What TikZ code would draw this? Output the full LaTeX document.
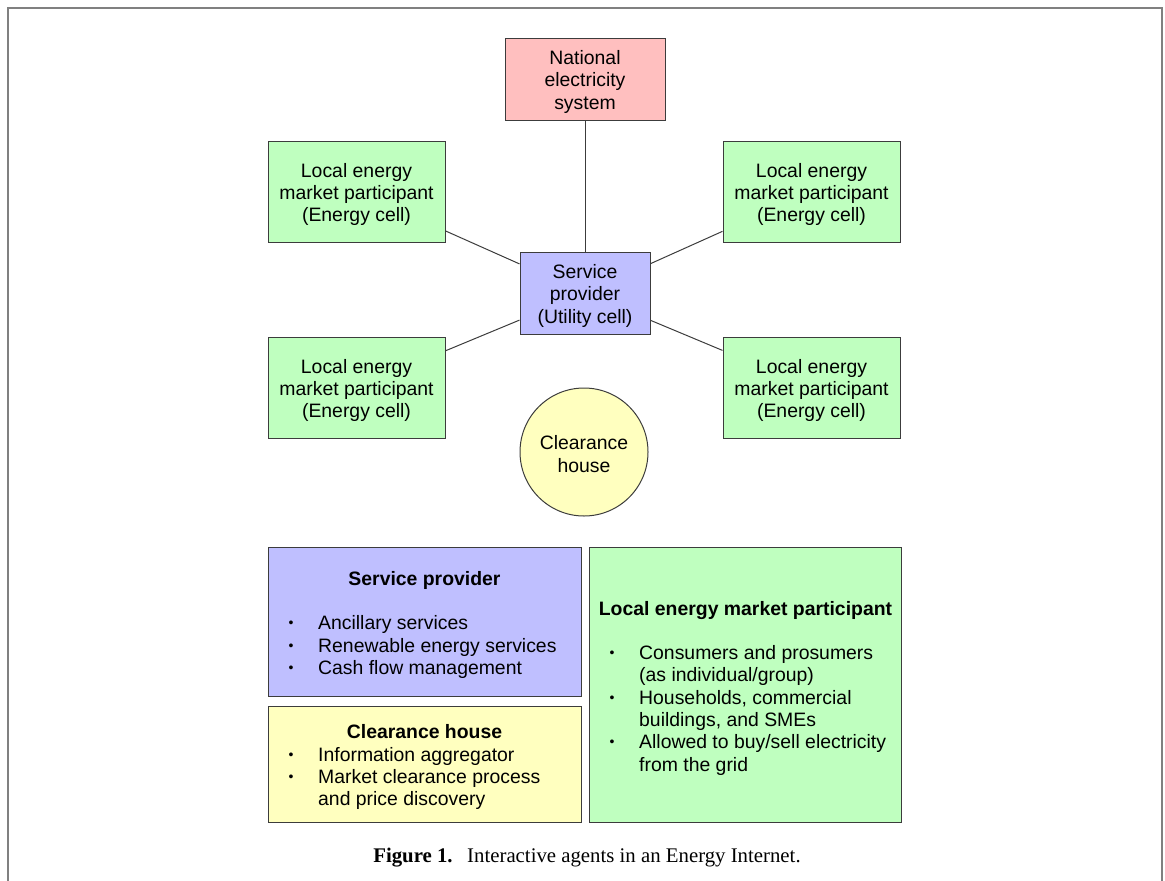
\documentclass[tikz,border=0pt]{standalone}
\usepackage{fontspec}
\setmainfont{Liberation Serif}
\newfontfamily\hv{Liberation Sans}
\definecolor{pinkc}{RGB}{255,191,191}
\definecolor{greenc}{RGB}{191,255,191}
\definecolor{bluec}{RGB}{191,191,255}
\definecolor{yelc}{RGB}{255,255,191}
\definecolor{framec}{RGB}{128,128,128}
\definecolor{edgec}{RGB}{60,60,60}
\newcommand\smallbul{{\fontsize{14}{14}\selectfont\raisebox{1.6pt}{\textbullet}}}
\newcommand\upstrut{\rule{0pt}{20pt}}
\tikzset{
  sans/.style={font=\hv\fontsize{19.4}{22.3}\selectfont},
  sansb/.style={font=\hv\bfseries\fontsize{19.4}{22.3}\selectfont},
  box/.style={draw=edgec, line width=1pt, rectangle, inner sep=0pt, align=center, sans},
  cell/.style={box, fill=greenc, minimum width=177, minimum height=101},
  conn/.style={draw=edgec, line width=1pt},
  bul/.style={sans, anchor=base, inner sep=0pt},
  item/.style={sans, anchor=base west, inner sep=0pt},
  ttl/.style={sansb, anchor=base, inner sep=0pt}
}
\begin{document}
\begin{tikzpicture}[x=1pt,y=-1pt]
\useasboundingbox (0,0) rectangle (1165,881);
\draw[framec, line width=2pt] (8,890) -- (8,8) -- (1162,8) -- (1162,890);

% upper diagram
\node[box, fill=pinkc, minimum width=160, minimum height=82] (nat) at (585,79) {\upstrut National\\electricity\\system};
\node[cell] (g1) at (356.5,191.5) {\upstrut Local energy\\market participant\\(Energy cell)};
\node[cell] (g2) at (811.5,191.5) {\upstrut Local energy\\market participant\\(Energy cell)};
\node[cell] (g3) at (356.5,387.5) {\upstrut Local energy\\market participant\\(Energy cell)};
\node[cell] (g4) at (811.5,387.5) {\upstrut Local energy\\market participant\\(Energy cell)};
\node[box, fill=bluec, minimum width=130, minimum height=82] (sp) at (585,293) {\upstrut Service\\provider\\(Utility cell)};
\node[box, circle, fill=yelc, minimum size=128] (ch) at (584,452) {\rule{0pt}{18pt}Clearance\\house};

\draw[conn] (nat) -- (sp);
\draw[conn] (sp) -- (g1);
\draw[conn] (sp) -- (g2);
\draw[conn] (sp) -- (g3);
\draw[conn] (sp) -- (g4);

% lower legend boxes
\node[box, fill=bluec, minimum width=313, minimum height=149, anchor=north west] (spbox) at (268,547) {};
\node[box, fill=yelc, minimum width=313, minimum height=116, anchor=north west] (chbox) at (268,706) {};
\node[box, fill=greenc, minimum width=312, minimum height=275, anchor=north west] (lmbox) at (589,547) {};

\node[ttl] (spt) at (424.5,585) {Service provider};
\node[bul] (spb1) at (291,629) {\smallbul};
\node[item] (spi1) at (318,629) {Ancillary services};
\node[bul] (spb2) at (291,652) {\smallbul};
\node[item] (spi2) at (318,652) {Renewable energy services};
\node[bul] (spb3) at (291,674) {\smallbul};
\node[item] (spi3) at (318,674) {Cash flow management};

\node[ttl] (cht) at (424.5,738) {Clearance house};
\node[bul] (chb1) at (291,761) {\smallbul};
\node[item] (chi1) at (318,761) {Information aggregator};
\node[bul] (chb2) at (291,783) {\smallbul};
\node[item] (chi2) at (318,783) {Market clearance process};
\node[item] (chi3) at (318,805) {and price discovery};

\node[ttl] (lmt) at (745.5,615) {Local energy market participant};
\node[bul] (lmb1) at (612,659) {\smallbul};
\node[item] (lmi1) at (639,659) {Consumers and prosumers};
\node[item] (lmi2) at (639,681) {(as individual/group)};
\node[bul] (lmb2) at (612,704) {\smallbul};
\node[item] (lmi3) at (639,704) {Households, commercial};
\node[item] (lmi4) at (639,726) {buildings, and SMEs};
\node[bul] (lmb3) at (612,748) {\smallbul};
\node[item] (lmi5) at (639,748) {Allowed to buy/sell electricity};
\node[item] (lmi6) at (639,771) {from the grid};

% caption
\node[font=\fontsize{20.8}{23}\selectfont, anchor=base, inner sep=0pt] (cap) at (587,862) {\textbf{Figure 1.}\hspace{0.7em}Interactive agents in an Energy Internet.};
\end{tikzpicture}
\end{document}
